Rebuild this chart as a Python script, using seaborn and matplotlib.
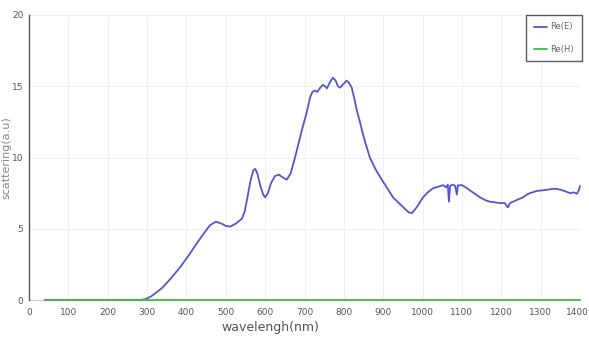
import matplotlib
matplotlib.use("Agg")
import matplotlib.pyplot as plt
import matplotlib.transforms as mtransforms
import seaborn as sns
import pandas as pd

# Electric-dipole scattering spectrum, Re(E)
e_wavelength = [40, 100, 200, 280, 295, 310, 325, 340, 360, 384, 405, 427, 445, 460, 475,
                490, 500, 511, 525, 541, 548, 555, 563, 570, 575, 580, 588, 595, 600, 607,
                615, 625, 635, 645, 655, 665, 675, 685, 695, 706, 714, 720, 726, 732, 740,
                747, 752, 757, 765, 772, 779, 785, 790, 797, 807, 814, 820, 826, 833, 840,
                846, 855, 866, 880, 895, 909, 925, 940, 955, 965, 973, 985, 1001, 1015, 1027,
                1040, 1052, 1060, 1064, 1067, 1070, 1077, 1083, 1087, 1090, 1100, 1110, 1120,
                1133, 1146, 1160, 1171, 1185, 1197, 1209, 1214, 1217, 1222, 1230, 1242, 1255,
                1265, 1273, 1290, 1306, 1320, 1330, 1341, 1355, 1365, 1374, 1385, 1392, 1397,
                1400]
e_scattering = [0.0, 0.0, 0.0, 0.0, 0.05, 0.25, 0.55, 0.9, 1.5, 2.3, 3.1, 4.0, 4.7, 5.25, 5.5,
                5.35, 5.2, 5.15, 5.35, 5.7, 6.2, 7.2, 8.4, 9.1, 9.2, 8.9, 8.0, 7.4, 7.2, 7.5,
                8.2, 8.7, 8.8, 8.6, 8.45, 8.9, 9.9, 11.0, 12.1, 13.2, 14.2, 14.6, 14.7, 14.6, 14.9,
                15.1, 15.0, 14.85, 15.3, 15.6, 15.4, 15.0, 14.9, 15.1, 15.4, 15.2, 14.9, 14.2, 13.3, 12.6,
                11.9, 11.0, 10.0, 9.2, 8.5, 7.9, 7.2, 6.8, 6.4, 6.15, 6.1, 6.5, 7.2, 7.6, 7.85,
                7.95, 8.06, 7.9, 8.1, 6.9, 8.0, 8.1, 8.0, 7.4, 8.05, 8.06, 7.9, 7.7,
                7.45, 7.2, 7.0, 6.9, 6.85, 6.8, 6.8, 6.6, 6.5, 6.8, 6.9, 7.05, 7.2,
                7.4, 7.5, 7.65, 7.7, 7.75, 7.8, 7.8, 7.7, 7.6, 7.5, 7.55, 7.45, 7.7,
                8.0]

# Magnetic-dipole scattering spectrum, Re(H)
h_wavelength = [40, 300, 600, 900, 1200, 1400]
h_scattering = [0.0, 0.0, 0.0, 0.0, 0.0, 0.0]

series_labels = ["Re(E)", "Re(H)"]
x_ticks = list(range(0, 1401, 100))
y_ticks = [0, 5, 10, 15, 20]

df = pd.concat([
    pd.DataFrame({"wavelength": e_wavelength, "scattering": e_scattering, "series": series_labels[0]}),
    pd.DataFrame({"wavelength": h_wavelength, "scattering": h_scattering, "series": series_labels[1]}),
], ignore_index=True)

sns.set_style("white")
plt.rcParams["font.family"] = ["DejaVu Sans"]

fig = plt.figure(figsize=(5.89, 3.41), dpi=100)
ax = fig.add_axes([29 / 589, 1 - 300 / 341, (580 - 29) / 589, (300 - 15) / 341])

palette = {series_labels[0]: "#5656cc", series_labels[1]: "#3cc043"}
sns.lineplot(data=df, x="wavelength", y="scattering", hue="series", palette=palette,
             linewidth=1.3, ax=ax, sort=False, estimator=None)
for line in ax.lines:
    line.set_clip_on(False)
    line.set_zorder(4)

ax.set_xlim(0, 1400)
ax.set_ylim(0, 20)
ax.set_xticks(x_ticks)
ax.set_yticks(y_ticks)
ax.grid(True, color="#f0f0f0", linewidth=0.8)
ax.set_axisbelow(True)

for side in ["top", "right"]:
    ax.spines[side].set_visible(False)
ax.spines["left"].set_color("#555555")
ax.spines["left"].set_linewidth(1.0)
ax.spines["bottom"].set_color("#cccccc")
ax.spines["bottom"].set_linewidth(0.8)
ax.spines["bottom"].set_zorder(1)

ax.tick_params(axis="x", direction="out", length=4, width=0.8, color="#777777",
               labelsize=6.5, labelcolor="#555555", pad=2)
ax.tick_params(axis="y", direction="out", length=3, width=0.8, color="#777777",
               labelsize=6.5, labelcolor="#555555", pad=1)

# keep the last wavelength label inside the canvas
last = ax.get_xticklabels()[-1]
last.set_transform(last.get_transform() + mtransforms.ScaledTranslation(-3 / 100, 0, fig.dpi_scale_trans))

ax.set_xlabel("wavelengh(nm)", fontsize=9, color="#555555", labelpad=1)
ax.xaxis.set_label_coords((270 - 29) / 551, -0.075)
ax.set_ylabel("scattering(a.u)", fontsize=8, color="#888888")
ax.yaxis.set_label_coords((11.5 - 29) / 551, 0.5)

leg = ax.legend(loc="upper right", bbox_to_anchor=(1.003, 1.0), fontsize=6,
                frameon=True, fancybox=False, handlelength=1.6, handletextpad=0.4,
                borderpad=0.9, labelspacing=1.6, borderaxespad=0.0)
leg.get_frame().set_edgecolor("#333333")
leg.get_frame().set_linewidth(1.0)
for t in leg.get_texts():
    t.set_color("#666666")

fig.savefig("out.png", dpi=100)
